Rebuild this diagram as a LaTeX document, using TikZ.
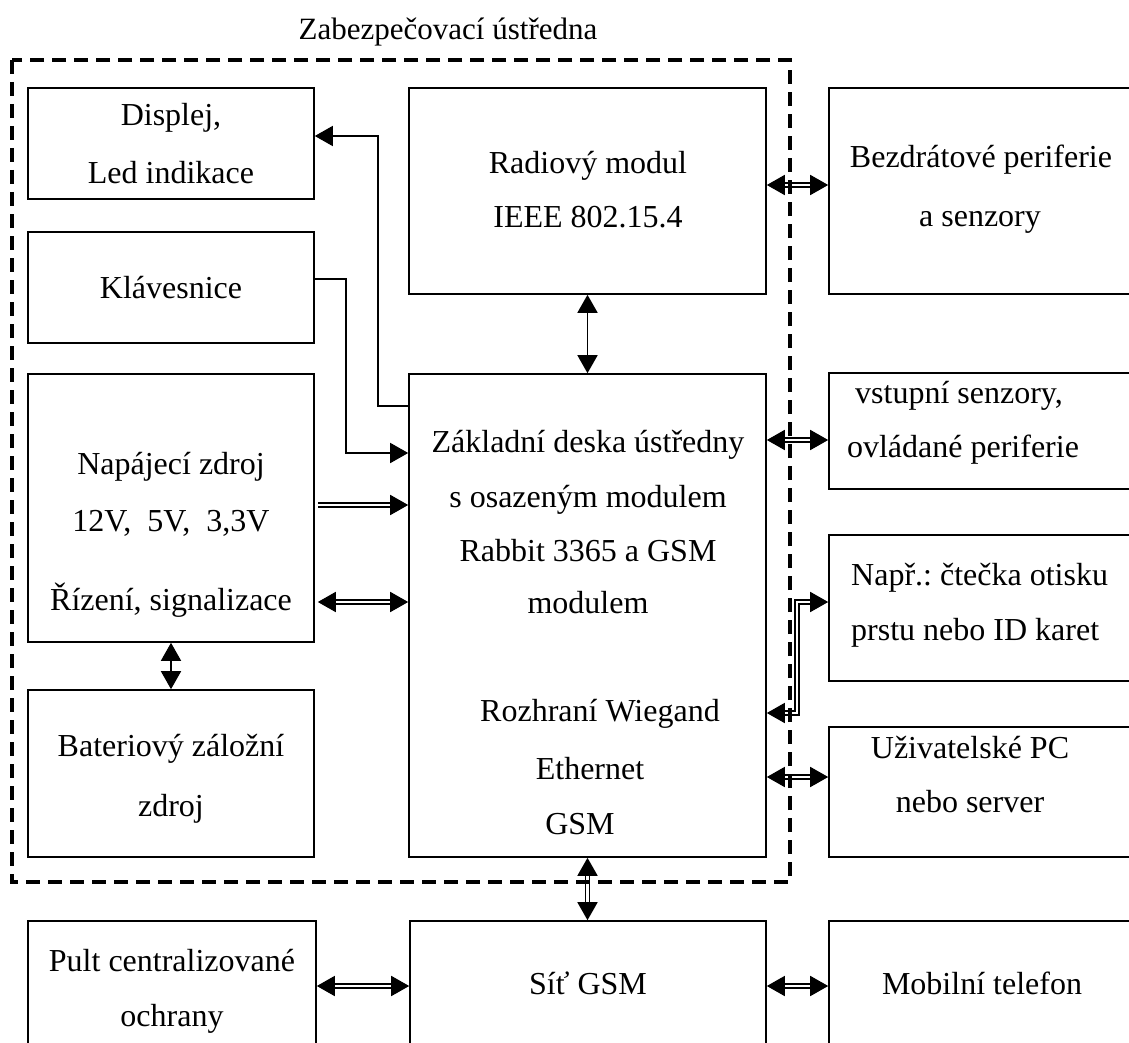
\documentclass[tikz,border=0pt]{standalone}
\usepackage{fontspec}
\setmainfont{Liberation Serif}
\usetikzlibrary{arrows.meta}
\frenchspacing
\begin{document}
\begin{tikzpicture}[x=1pt,y=-1pt,
  box/.style={draw,line width=1.6pt,inner sep=0pt,rectangle},
  txt/.style={anchor=base,inner sep=0pt,font=\fontsize{32}{38}\selectfont},
  sline/.style={line width=1.6pt},
  dline/.style={line width=1.7pt,double,double distance=2.4pt},
  frame/.style={line width=3.6pt,dash pattern=on 14pt off 8pt},
  >={Triangle[length=18pt,width=20pt]}]
\clip (0,0) rectangle (1129,1043);
\fill[white] (0,0) rectangle (1129,1043);

% boxes
\node[box,minimum width=286pt,minimum height=111pt] (disp) at (171,143.5) {};
\node[box,minimum width=286pt,minimum height=111pt] (klav) at (171,287.5) {};
\node[box,minimum width=286pt,minimum height=268pt] (nap) at (171,508) {};
\node[box,minimum width=286pt,minimum height=167pt] (bat) at (171,773.5) {};
\node[box,minimum width=288pt,minimum height=149pt] (pult) at (172,995.5) {};
\node[box,minimum width=357pt,minimum height=206pt] (radio) at (587.5,191) {};
\node[box,minimum width=357pt,minimum height=483pt] (main) at (587.5,615.5) {};
\node[box,minimum width=356pt,minimum height=149pt] (sit) at (588,995.5) {};
\node[box,minimum width=311pt,minimum height=206pt] (bez) at (984.5,191) {};
\node[box,minimum width=311pt,minimum height=116pt] (vst) at (984.5,431) {};
\node[box,minimum width=311pt,minimum height=146pt] (napr) at (984.5,608) {};
\node[box,minimum width=311pt,minimum height=130pt] (uziv) at (984.5,792) {};
\node[box,minimum width=311pt,minimum height=149pt] (mob) at (984.5,995.5) {};

% texts
\node[txt,font=\fontsize{31}{37}\selectfont] (title) at (448,40) {Zabezpečovací ústředna};
\node[txt] (disp1) at (171,126) {Displej,};
\node[txt] (disp2) at (171,184) {Led indikace};
\node[txt] (klav1) at (171,298) {Klávesnice};
\node[txt] (nap1) at (171,474) {Napájecí zdroj};
\node[txt] (nap2) at (171,531) {12V,\ \ 5V,\ \ 3,3V};
\node[txt] (nap3) at (171,610) {Řízení, signalizace};
\node[txt] (bat1) at (171,756) {Bateriový záložní};
\node[txt] (bat2) at (171,816) {zdroj};
\node[txt] (pult1) at (172,971) {Pult centralizované};
\node[txt] (pult2) at (172,1026) {ochrany};
\node[txt] (radio1) at (588,174) {Radiový modul};
\node[txt] (radio2) at (588,227) {IEEE 802.15.4};
\node[txt] (main1) at (588,452) {Základní deska ústředny};
\node[txt] (main2) at (588,507) {s osazeným modulem};
\node[txt] (main3) at (588,561) {Rabbit 3365 a GSM};
\node[txt] (main4) at (588,613) {modulem};
\node[txt] (main5) at (600,721) {Rozhraní Wiegand};
\node[txt] (main6) at (590,779) {Ethernet};
\node[txt] (main7) at (580,834) {GSM};
\node[txt] (sit1) at (588,994) {Síť GSM};
\node[txt] (bez1) at (981,168) {Bezdrátové periferie};
\node[txt] (bez2) at (980,226) {a senzory};
\node[txt] (vst1) at (959,403) {vstupní senzory,};
\node[txt] (vst2) at (963,457) {ovládané periferie};
\node[txt,anchor=base west] (napr1) at (851,585) {Např.: čtečka otisku};
\node[txt,anchor=base west] (napr2) at (851,640) {prstu nebo ID karet};
\node[txt] (uziv1) at (970,758) {Uživatelské PC};
\node[txt] (uziv2) at (970,812) {nebo server};
\node[txt] (mob1) at (982,994) {Mobilní telefon};

% connector helper coordinates
\coordinate (k1) at (378,406);
\coordinate (k2) at (378,136);
\coordinate (k3) at (346,279);
\coordinate (k4) at (346,453);
\coordinate (a1) at (0,185);
\coordinate (a2) at (0,440);
\coordinate (w1) at (797,602);
\coordinate (w2) at (797,713);
\coordinate (a3) at (0,777);
\coordinate (a4) at (0,986);
\coordinate (a5) at (0,505);
\coordinate (a6) at (0,602);

% single-line connectors
\draw[sline,->] (main.west |- k1) -- (k1) -- (k2) -- (disp.east |- k2);
\draw[sline,->] (klav.east |- k3) -- (k3) -- (k4) -- (main.west |- k4);
\draw[sline,<->] (radio.south) -- (main.north);
\draw[sline,<->] (nap.south) -- (bat.north);

% double-line connectors
\draw[dline,->] ([xshift=3pt]nap.east |- a5) -- (main.west |- a5);
\draw[dline,<->] ([xshift=3pt]nap.east |- a6) -- (main.west |- a6);
\draw[dline,<->] (radio.east |- a1) -- (bez.west |- a1);
\draw[dline,<->] (main.east |- a2) -- (vst.west |- a2);
\draw[dline,<->] (napr.west |- w1) -- (w1) -- (w2) -- (main.east |- w2);
\draw[dline,<->] (main.east |- a3) -- (uziv.west |- a3);
\draw[dline,<->] (main.south) -- (main.south |- sit.north);
\draw[dline,<->] (pult.east |- a4) -- (sit.west |- a4);
\draw[dline,<->] (sit.east |- a4) -- (mob.west |- a4);

% dashed enclosure
\draw[frame] (12,60) rectangle (790,882);
\end{tikzpicture}
\end{document}
